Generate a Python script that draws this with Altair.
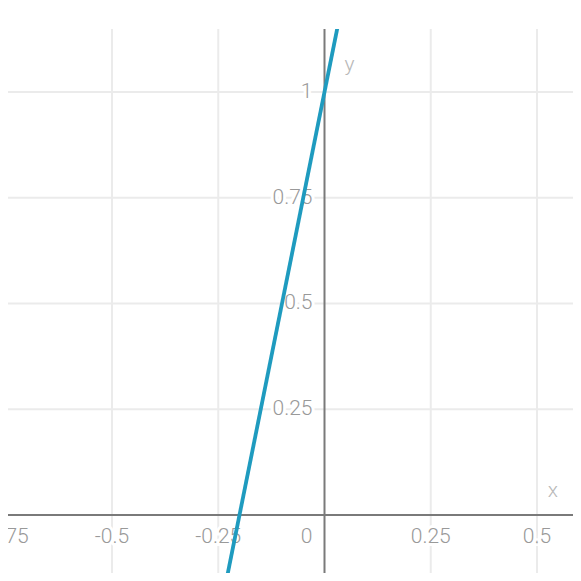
import altair as alt
import pandas as pd

# ---- data ----
line_x = [-0.25, 0.05]
line_y = [-0.25, 1.25]
x_ticks = [-0.75, -0.5, -0.25, 0.25, 0.5]
x_tick_labels = ["-0.75", "-0.5", "-0.25", "0.25", "0.5"]
y_ticks = [0.25, 0.5, 0.75, 1.0]
y_tick_labels = ["0.25", "0.5", "0.75", "1"]
origin_label = ["0"]
axis_names = ["x", "y"]

X_DOMAIN = [-0.7447, 0.5847]
Y_DOMAIN = [-0.1371, 1.1489]

xs = alt.Scale(domain=X_DOMAIN, nice=False, zero=False)
ys = alt.Scale(domain=Y_DOMAIN, nice=False, zero=False)

line_df = pd.DataFrame({"x": line_x, "y": line_y})
xt = pd.DataFrame({"x": x_ticks, "y": [0.0] * len(x_ticks), "label": x_tick_labels})
yt = pd.DataFrame({"x": [0.0] * len(y_ticks), "y": y_ticks, "label": y_tick_labels})
org = pd.DataFrame({"x": [0.0], "y": [0.0], "label": origin_label})
xname = pd.DataFrame({"x": [0.5376], "y": [0.0], "label": [axis_names[0]]})
yname = pd.DataFrame({"x": [0.0], "y": [1.064], "label": [axis_names[1]]})

FONT = "Roboto"
FS = 21
LABEL_COLOR = "#999999"
GRID = "#ebebeb"
AXIS = "#7a7a7a"

X = lambda: alt.X("x:Q", scale=xs, axis=None)
Y = lambda: alt.Y("y:Q", scale=ys, axis=None)

vgrid = alt.Chart(xt).mark_rule(color=GRID, strokeWidth=2).encode(x=X())
hgrid = alt.Chart(yt).mark_rule(color=GRID, strokeWidth=2).encode(y=Y())

def labels(df, dx, dy, align, halo):
    kw = dict(font=FONT, fontSize=FS, fontWeight=300, align=align, baseline="middle", dx=dx, dy=dy)
    if halo:
        m = alt.Chart(df).mark_text(fill="white", stroke="white", strokeWidth=6, **kw)
    else:
        m = alt.Chart(df).mark_text(color=LABEL_COLOR, **kw)
    return m.encode(x=X(), y=Y(), text="label:N")

layers = [vgrid, hgrid]
for halo in (True, False):
    layers.append(labels(xt, 0, 22, "center", halo))
    layers.append(labels(yt, -12, 0, "right", halo))
    layers.append(labels(org, -12, 22, "right", halo))

xaxis = alt.Chart(org).mark_rule(color=AXIS, strokeWidth=2).encode(y=Y())
yaxis = alt.Chart(org).mark_rule(color=AXIS, strokeWidth=2).encode(x=X())

curve = alt.Chart(line_df).mark_line(color="#1f9bbf", strokeWidth=3.8, clip=True).encode(x=X(), y=Y())

names = [
    alt.Chart(xname).mark_text(font=FONT, fontSize=FS, fontWeight=300, color="#b8b8b8",
                               align="center", baseline="middle", dy=-24).encode(x=X(), y=Y(), text="label:N"),
    alt.Chart(yname).mark_text(font=FONT, fontSize=FS, fontWeight=300, color="#b8b8b8",
                               align="center", baseline="middle", dx=25).encode(x=X(), y=Y(), text="label:N"),
]

chart = alt.layer(*layers, xaxis, yaxis, curve, *names).properties(
    width=565,
    height=544,
    autosize=alt.AutoSizeParams(type="none"),
    padding={"left": 0, "top": 21, "right": 0, "bottom": 0},
    background="white",
).configure_view(stroke=None)

chart.save("out.html", embed_options={"renderer": "svg", "actions": False})
